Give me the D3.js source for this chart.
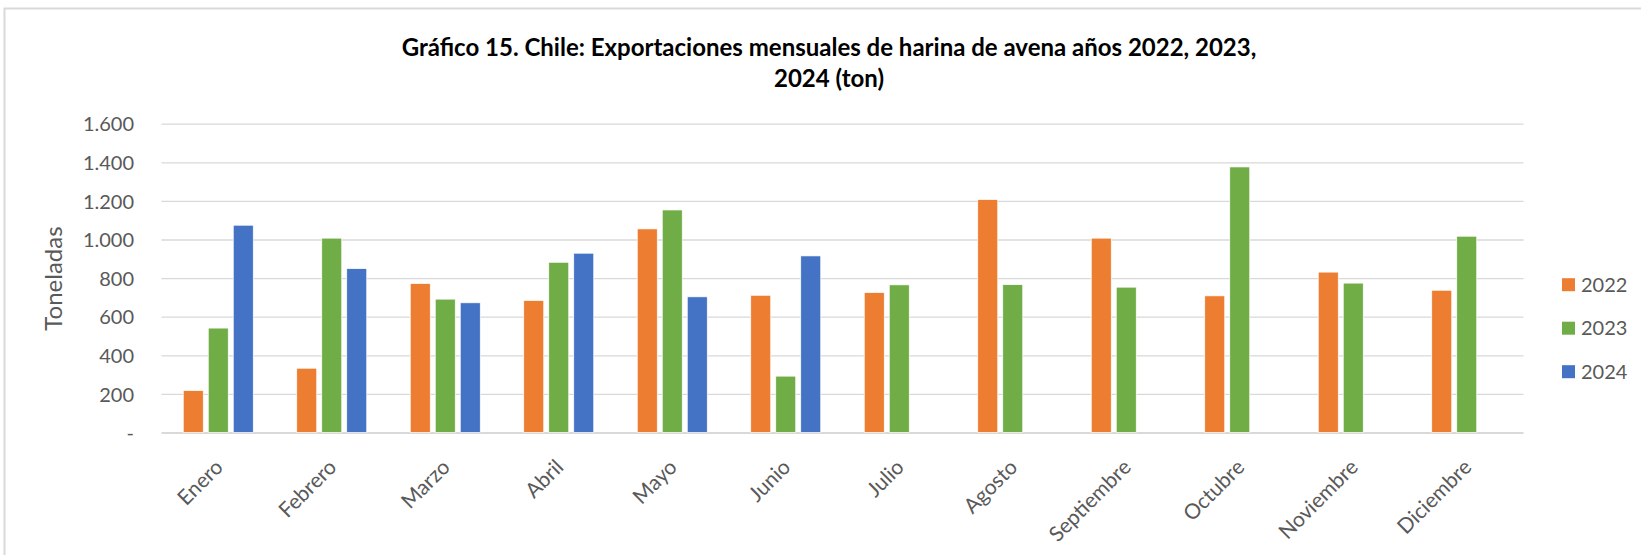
<!DOCTYPE html>
<html>
<head>
<meta charset="utf-8">
<script src="https://cdn.jsdelivr.net/npm/d3@7"></script>
<style>
  body { margin: 0; background: #fff; }
  svg { display: block; font-family: Lato, "Open Sans", sans-serif; }
</style>
</head>
<body>
<div id="chart"></div>
<script>
// Monthly exports of oat flour, Chile (tons)
var months = ["Enero", "Febrero", "Marzo", "Abril", "Mayo", "Junio",
  "Julio", "Agosto", "Septiembre", "Octubre", "Noviembre", "Diciembre"];
var years = ["2022", "2023", "2024"];
var values2022 = [217, 333, 772, 684, 1055, 711, 725, 1207, 1007, 708, 831, 737];
var values2023 = [541, 1007, 691, 882, 1153, 292, 765, 766, 753, 1376, 774, 1017];
var values2024 = [1074, 849, 672, 929, 703, 915, null, null, null, null, null, null];
var yTicks = [0, 200, 400, 600, 800, 1000, 1200, 1400, 1600];
var titleLines = ["Gráfico 15. Chile: Exportaciones mensuales de harina de avena años 2022, 2023,",
  "2024 (ton)"];
var yLabel = "Toneladas";

var colors = { "2022": "#ED7D31", "2023": "#70AD47", "2024": "#4472C4" };
var seriesValues = { "2022": values2022, "2023": values2023, "2024": values2024 };

var svgWidth = 1641;
var svgHeight = 555;

// plot area
var plot = { left: 161.5, right: 1523.5, top: 123.7, bottom: 432.5 };

var svg = d3.select("#chart")
  .append("svg")
  .attr("width", svgWidth)
  .attr("height", svgHeight);

// chart frame (only top and left edges show in the picture)
svg.append("rect")
  .attr("x", 4.5)
  .attr("y", 8.5)
  .attr("width", svgWidth + 10)
  .attr("height", svgHeight + 10)
  .attr("fill", "none")
  .attr("stroke", "#D9D9D9")
  .attr("stroke-width", 2);

// title
svg.append("g")
  .selectAll("text")
  .data(titleLines)
  .enter()
  .append("text")
  .attr("x", 829)
  .attr("y", (d, i) => 55.5 + i * 31.5)
  .attr("text-anchor", "middle")
  .attr("font-size", "24px")
  .attr("font-weight", "bold")
  .attr("fill", "#000")
  .text(d => d);

// scales
var x0 = d3.scaleBand()
  .domain(months)
  .range([plot.left, plot.right])
  .padding(0);

var x1 = d3.scaleBand()
  .domain(years)
  .range([x0.bandwidth() / 2 - 35, x0.bandwidth() / 2 + 35])
  .paddingInner(0.2)
  .paddingOuter(0);

var y = d3.scaleLinear()
  .domain([0, 1600])
  .range([plot.bottom, plot.top]);

var locale = d3.formatLocale({ decimal: ",", thousands: ".", grouping: [3], currency: ["$", ""] });
var fmt = locale.format(",d");

// gridlines + y labels
var leftAxis = d3.axisLeft(y)
  .tickValues(yTicks)
  .tickSize(-(plot.right - plot.left))
  .tickFormat(d => d === 0 ? "-" : fmt(d));

var yAxisG = svg.append("g")
  .attr("transform", `translate(${plot.left}, 0)`)
  .call(leftAxis);

yAxisG.select(".domain").remove();
yAxisG.selectAll(".tick line")
  .attr("stroke", "#D9D9D9")
  .attr("stroke-width", d => d === 0 ? 2 : 1.3);
yAxisG.selectAll(".tick text")
  .attr("x", 134 - plot.left)
  .attr("dy", "0.36em")
  .attr("font-size", "20px")
  .attr("font-family", "Lato, sans-serif")
  .attr("fill", "#595959");

// y axis title
svg.append("text")
  .attr("transform", "translate(62, 278.5) rotate(-90)")
  .attr("text-anchor", "middle")
  .attr("font-size", "24px")
  .attr("fill", "#595959")
  .text(yLabel);

// bars
var groups = svg.append("g")
  .selectAll("g")
  .data(months)
  .enter()
  .append("g")
  .attr("transform", d => `translate(${x0(d)}, 0)`);

groups.selectAll("rect")
  .data((m, i) => years.map(yr => ({ year: yr, value: seriesValues[yr][i] })))
  .enter()
  .filter(d => d.value != null)
  .append("rect")
  .attr("x", d => x1(d.year))
  .attr("y", d => y(d.value))
  .attr("width", x1.bandwidth())
  .attr("height", d => y(0) - y(d.value))
  .attr("fill", d => colors[d.year])
  .attr("stroke", "#fff")
  .attr("stroke-width", 0.7);

// month labels, rotated
var bottomAxis = d3.axisBottom(x0).tickSize(0);
var xAxisG = svg.append("g")
  .attr("transform", `translate(0, ${plot.bottom})`)
  .call(bottomAxis);
xAxisG.select(".domain").remove();
xAxisG.selectAll(".tick text")
  .attr("y", 0)
  .attr("dy", 0)
  .attr("text-anchor", "end")
  .attr("transform", "translate(6, 36) rotate(-45)")
  .attr("font-size", "21px")
  .attr("font-family", "Lato, sans-serif")
  .attr("fill", "#595959");

// legend
var legend = svg.append("g")
  .selectAll("g")
  .data(years)
  .enter()
  .append("g")
  .attr("transform", (d, i) => `translate(1562, ${284.7 + i * 43.5})`);

legend.append("rect")
  .attr("x", 0)
  .attr("y", -6.5)
  .attr("width", 13)
  .attr("height", 13)
  .attr("fill", d => colors[d]);

legend.append("text")
  .attr("x", 19)
  .attr("dy", "0.36em")
  .attr("font-size", "20px")
  .attr("fill", "#595959")
  .text(d => d);
</script>
</body>
</html>
